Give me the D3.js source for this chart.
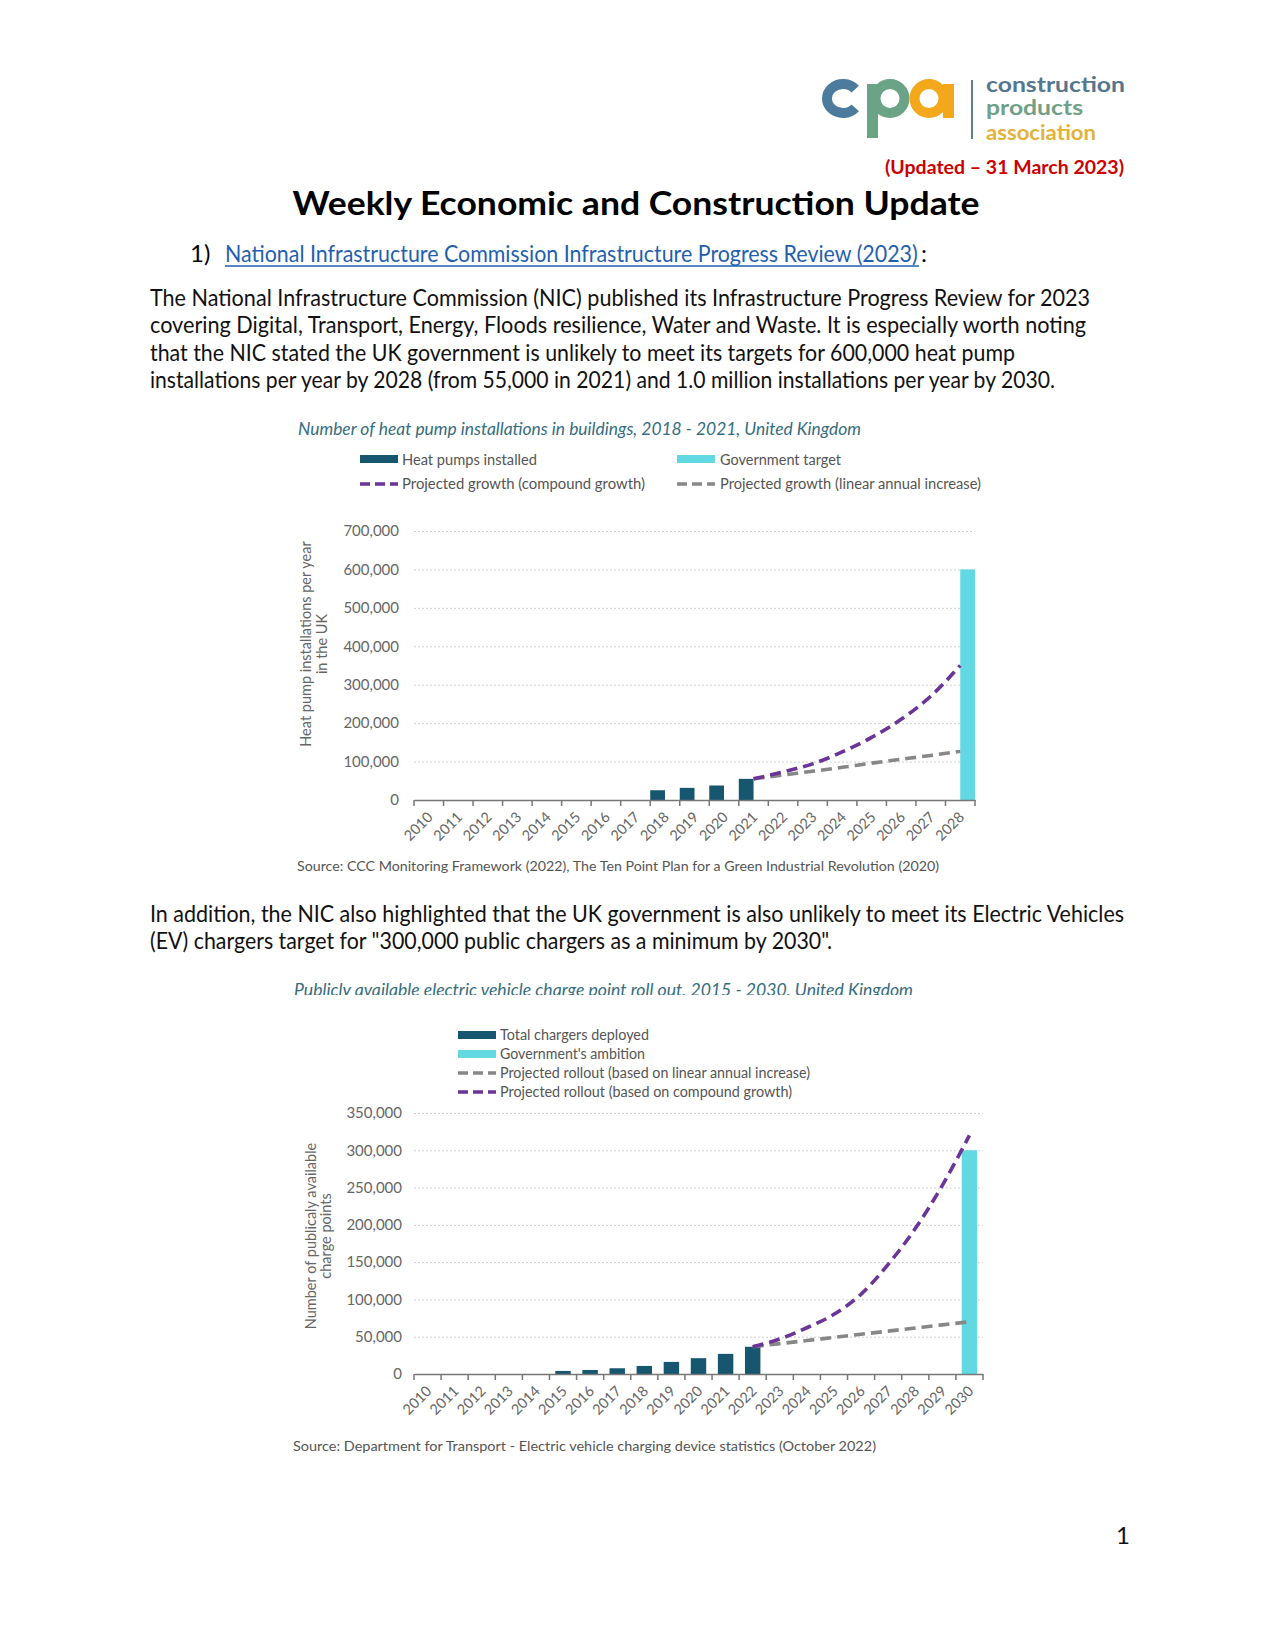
<!DOCTYPE html>
<html><head><meta charset="utf-8">
<script src="https://cdn.jsdelivr.net/npm/d3@7"></script>
<style>body{margin:0;background:#fff}</style>
</head><body>
<svg id="page" width="1275" height="1650"></svg>
<script>
// ---------- DATA ----------
const heatYears = ["2010","2011","2012","2013","2014","2015","2016","2017","2018","2019","2020","2021","2022","2023","2024","2025","2026","2027","2028"];
const heatBarYears = ["2018","2019","2020","2021"];
const heatBarValues = [25400, 31600, 37700, 55000];
const heatTargetYears = ["2028"];
const heatTargetValues = [600000];
const heatProjYears = ["2021","2022","2023","2024","2025","2026","2027","2028"];
const heatCompound = [55000, 73000, 94000, 125000, 163000, 210000, 270000, 350000];
const heatLinear = [55000, 65000, 75000, 85000, 96000, 106000, 116000, 127000];
const heatYTicks = [0, 100000, 200000, 300000, 400000, 500000, 600000, 700000];

const evYears = ["2010","2011","2012","2013","2014","2015","2016","2017","2018","2019","2020","2021","2022","2023","2024","2025","2026","2027","2028","2029","2030"];
const evBarYears = ["2015","2016","2017","2018","2019","2020","2021","2022"];
const evBarValues = [4100, 5400, 7700, 10800, 16200, 21200, 27000, 36500];
const evTargetYears = ["2030"];
const evTargetValues = [300000];
const evProjYears = ["2022","2023","2024","2025","2026","2027","2028","2029","2030"];
const evLinear = [36500, 40700, 44900, 49100, 53300, 57500, 61700, 65900, 70000];
const evCompound = [36500, 47000, 62000, 80000, 107000, 147000, 195000, 253000, 320000];
const evYTicks = [0, 50000, 100000, 150000, 200000, 250000, 300000, 350000];

// ---------- HELPERS ----------
const FONT = "Lato, 'Noto Sans', sans-serif";
const svg = d3.select("#page");
svg.append("rect").attr("width", 1275).attr("height", 1650).attr("fill", "#fff");

function addText(parent, str, x, y, o = {}) {
  const t = parent.append("text").attr("x", x).attr("y", y).text(str)
    .attr("font-family", o.family || FONT)
    .attr("font-size", o.size || 14)
    .attr("fill", o.fill || "#000");
  if (o.weight) t.attr("font-weight", o.weight);
  if (o.italic) t.attr("font-style", "italic");
  if (o.anchor) t.attr("text-anchor", o.anchor);
  if (o.len) t.attr("textLength", o.len).attr("lengthAdjust", "spacingAndGlyphs");
  return t;
}
// text squeezed to an exact width by a horizontal scale (bounding box stays true)
function fitText(parent, str, x, y, width, o = {}) {
  const t = parent.append("text").attr("x", 0).attr("y", 0).text(str)
    .attr("font-family", o.family || FONT)
    .attr("font-size", o.size || 14)
    .attr("fill", o.fill || "#000");
  const w = t.node().getComputedTextLength();
  t.attr("transform", `translate(${x},${y}) scale(${width / w},1)`);
  return t;
}

const C_DARK = "#17566f", C_CYAN = "#62d8e2", C_PURPLE = "#6a3596", C_GREY = "#878787";
const C_AXIS_TXT = "#666666", C_TITLE = "#356d80";

// ---------- LOGO ----------
const logo = svg.append("g");
function ringArc(cx, cy, rx, ry, deg) {
  const a = deg * Math.PI / 180;
  const x0 = cx + rx * Math.cos(-a), y0 = cy + ry * Math.sin(-a);
  const x1 = cx + rx * Math.cos(a), y1 = cy + ry * Math.sin(a);
  return `M${x0},${y0} A${rx},${ry} 0 1 0 ${x1},${y1}`;
}
logo.append("path").attr("d", ringArc(843, 98.5, 16, 14.5, 40))
  .attr("fill", "none").attr("stroke", "#4d7b9d").attr("stroke-width", 10);
logo.append("ellipse").attr("cx", 890).attr("cy", 98.5).attr("rx", 14.5).attr("ry", 14.5)
  .attr("fill", "none").attr("stroke", "#6aa386").attr("stroke-width", 10);
logo.append("rect").attr("x", 867).attr("y", 84).attr("width", 11).attr("height", 54).attr("fill", "#6aa386");
logo.append("ellipse").attr("cx", 929).attr("cy", 98.5).attr("rx", 14.5).attr("ry", 14.5)
  .attr("fill", "none").attr("stroke", "#f3a71b").attr("stroke-width", 10);
logo.append("rect").attr("x", 943).attr("y", 84).attr("width", 11).attr("height", 34).attr("fill", "#f3a71b");
logo.append("line").attr("x1", 972).attr("x2", 972).attr("y1", 80).attr("y2", 139)
  .attr("stroke", "#5c7f98").attr("stroke-width", 2);
addText(logo, "construction", 986, 92, {size: 21, weight: 700, fill: "#55768f", len: 139});
addText(logo, "products", 986, 115, {size: 21, weight: 700, fill: "#70a086", len: 97});
addText(logo, "association", 986, 140, {size: 21, weight: 700, fill: "#e3b23a", len: 110});

addText(svg, "(Updated \u2013 31 March 2023)", 1124, 174, {size: 18, weight: 700, fill: "#cc0000", anchor: "end", len: 239});

// ---------- TITLE & TEXT ----------
addText(svg, "Weekly Economic and Construction Update", 636, 215, {size: 33, weight: 700, anchor: "middle", len: 687});
addText(svg, "1)", 190, 262, {size: 24});
fitText(svg, "National Infrastructure Commission Infrastructure Progress Review (2023)", 225, 262, 693, {size: 24, fill: "#1f5fae"});
svg.append("line").attr("x1", 225).attr("x2", 919).attr("y1", 266).attr("y2", 266).attr("stroke", "#1f5fae").attr("stroke-width", 1.5);
addText(svg, ":", 921, 262, {size: 24});

const para1 = [
  ["The National Infrastructure Commission (NIC) published its Infrastructure Progress Review for 2023", 940],
  ["covering Digital, Transport, Energy, Floods resilience, Water and Waste. It is especially worth noting", 936],
  ["that the NIC stated the UK government is unlikely to meet its targets for 600,000 heat pump", 865],
  ["installations per year by 2028 (from 55,000 in 2021) and 1.0 million installations per year by 2030.", 905]
];
para1.forEach((l, i) => addText(svg, l[0], 150, 306 + i * 27.4, {size: 24, fill: "#111", len: l[1]}));

const para2 = [
  ["In addition, the NIC also highlighted that the UK government is also unlikely to meet its Electric Vehicles", 974],
  ["(EV) chargers target for \"300,000 public chargers as a minimum by 2030\".", 682]
];
para2.forEach((l, i) => addText(svg, l[0], 150, 922 + i * 27.4, {size: 24, fill: "#111", len: l[1]}));

addText(svg, "1", 1116, 1544, {size: 24, fill: "#111"});

// ---------- CHART FUNCTION ----------
function drawChart(cfg) {
  const g = svg.append("g");
  const x = d3.scaleBand().domain(cfg.years).range([cfg.x0, cfg.x1]).padding(0);
  const bw = x.bandwidth();
  const y = d3.scaleLinear().domain([0, cfg.yMax]).range([cfg.yBottom, cfg.yTop]);

  // y grid + labels
  const yAxis = g.append("g").attr("transform", `translate(${cfg.x0},0)`)
    .call(d3.axisLeft(y).tickValues(cfg.yTicks).tickFormat(d3.format(",")).tickSize(-(cfg.x1 - cfg.x0)).tickPadding(cfg.yPad));
  yAxis.select(".domain").remove();
  yAxis.selectAll(".tick line").attr("stroke", "#cfcfcf").attr("stroke-dasharray", "2,2").attr("stroke-width", 1);
  yAxis.selectAll(".tick text").attr("font-family", FONT).attr("font-size", 15).attr("fill", C_AXIS_TXT);

  // bars
  const sub = d3.scaleBand().domain(["a", "b"]).range([0, bw]);
  const barX = (yr, k) => cfg.grouped ? x(yr) + sub(k) : x(yr) + bw * 0.215;
  const barW = cfg.grouped ? sub.bandwidth() : bw * 0.57;
  g.selectAll(".b1").data(cfg.barYears).join("rect")
    .attr("x", d => barX(d, "a")).attr("width", barW)
    .attr("y", (d, i) => y(cfg.barValues[i])).attr("height", (d, i) => y(0) - y(cfg.barValues[i]))
    .attr("fill", C_DARK);
  g.selectAll(".b2").data(cfg.targetYears).join("rect")
    .attr("x", d => barX(d, "b")).attr("width", barW)
    .attr("y", (d, i) => y(cfg.targetValues[i])).attr("height", (d, i) => y(0) - y(cfg.targetValues[i]))
    .attr("fill", C_CYAN);

  // projection lines
  const line = d3.line().x(d => x(d[0]) + bw / 2).y(d => y(d[1])).curve(d3.curveMonotoneX);
  const linPts = cfg.projYears.map((yr, i) => [yr, cfg.linear[i]]);
  const cmpPts = cfg.projYears.map((yr, i) => [yr, cfg.compound[i]]);
  g.append("path").attr("d", line(linPts)).attr("fill", "none").attr("stroke", C_GREY)
    .attr("stroke-width", 3.6).attr("stroke-dasharray", "11,6");
  g.append("path").attr("d", line(cmpPts)).attr("fill", "none").attr("stroke", C_PURPLE)
    .attr("stroke-width", 3.6).attr("stroke-dasharray", "11,6");

  // x axis
  const xAxis = g.append("g").attr("transform", `translate(0,${cfg.yBottom})`)
    .call(d3.axisBottom(x).tickSize(0).tickPadding(0));
  xAxis.select(".domain").attr("stroke", "#777").attr("stroke-width", 1.5);
  xAxis.selectAll(".tick text")
    .attr("font-family", FONT).attr("font-size", 14.5).attr("fill", C_AXIS_TXT)
    .attr("text-anchor", "end").attr("y", null).attr("dy", null)
    .attr("transform", "translate(5,18) rotate(-45)");
  const bounds = cfg.years.map(d => x(d)).concat([cfg.x1]);
  g.selectAll(".tk").data(bounds).join("line")
    .attr("x1", d => d).attr("x2", d => d).attr("y1", cfg.yBottom).attr("y2", cfg.yBottom + 6)
    .attr("stroke", "#777").attr("stroke-width", 1.5);

  // y axis title
  cfg.yTitle.forEach((t, i) => {
    g.append("text").attr("transform", `translate(${cfg.yTitleX[i]},${cfg.yTitleY}) rotate(-90)`)
      .attr("text-anchor", "middle").attr("font-family", FONT).attr("font-size", 14.5)
      .attr("fill", C_AXIS_TXT).text(t);
  });
  return g;
}

// ---------- CHART 1 ----------
const g1 = svg.append("g");
addText(g1, "Number of heat pump installations in buildings, 2018 - 2021, United Kingdom", 298, 435, {size: 17, italic: true, fill: C_TITLE, len: 563});
g1.append("rect").attr("x", 360).attr("y", 455).attr("width", 38).attr("height", 8).attr("fill", C_DARK);
addText(g1, "Heat pumps installed", 402, 465, {size: 14.5, fill: "#555", len: 135});
g1.append("rect").attr("x", 677).attr("y", 455).attr("width", 38).attr("height", 8).attr("fill", C_CYAN);
addText(g1, "Government target", 720, 465, {size: 14.5, fill: "#555", len: 121});
g1.append("line").attr("x1", 360).attr("x2", 398).attr("y1", 484).attr("y2", 484).attr("stroke", C_PURPLE).attr("stroke-width", 3.5).attr("stroke-dasharray", "10,5");
addText(g1, "Projected growth (compound growth)", 402, 489, {size: 14.5, fill: "#555", len: 243});
g1.append("line").attr("x1", 677).attr("x2", 715).attr("y1", 484).attr("y2", 484).attr("stroke", C_GREY).attr("stroke-width", 3.5).attr("stroke-dasharray", "10,5");
addText(g1, "Projected growth (linear annual increase)", 720, 489, {size: 14.5, fill: "#555", len: 261});

drawChart({
  years: heatYears, barYears: heatBarYears, barValues: heatBarValues,
  targetYears: heatTargetYears, targetValues: heatTargetValues,
  projYears: heatProjYears, compound: heatCompound, linear: heatLinear,
  yMax: 700000, yTicks: heatYTicks, x0: 414, x1: 975, yTop: 531, yBottom: 800, yPad: 15,
  grouped: true,
  yTitle: ["Heat pump installations per year", "in the UK"], yTitleX: [311, 327], yTitleY: 644
});
addText(svg, "Source: CCC Monitoring Framework (2022), The Ten Point Plan for a Green Industrial Revolution (2020)", 297, 871, {size: 14, fill: "#555", len: 642});

// ---------- CHART 2 ----------
const g2 = svg.append("g");
svg.append("clipPath").attr("id", "clipT2").append("rect").attr("x", 0).attr("y", 960).attr("width", 1275).attr("height", 35);
addText(g2, "Publicly available electric vehicle charge point roll out, 2015 - 2030, United Kingdom", 294, 996, {size: 17, italic: true, fill: C_TITLE, len: 619})
  .attr("clip-path", "url(#clipT2)");
g2.append("rect").attr("x", 458).attr("y", 1031).attr("width", 38).attr("height", 8).attr("fill", C_DARK);
addText(g2, "Total chargers deployed", 500, 1040, {size: 14.5, fill: "#555", len: 149});
g2.append("rect").attr("x", 458).attr("y", 1050).attr("width", 38).attr("height", 8).attr("fill", C_CYAN);
addText(g2, "Government's ambition", 500, 1059, {size: 14.5, fill: "#555", len: 145});
g2.append("line").attr("x1", 458).attr("x2", 496).attr("y1", 1073).attr("y2", 1073).attr("stroke", C_GREY).attr("stroke-width", 3.5).attr("stroke-dasharray", "10,5");
addText(g2, "Projected rollout (based on linear annual increase)", 500, 1078, {size: 14.5, fill: "#555", len: 310});
g2.append("line").attr("x1", 458).attr("x2", 496).attr("y1", 1092).attr("y2", 1092).attr("stroke", C_PURPLE).attr("stroke-width", 3.5).attr("stroke-dasharray", "10,5");
addText(g2, "Projected rollout (based on compound growth)", 500, 1097, {size: 14.5, fill: "#555", len: 292});

drawChart({
  years: evYears, barYears: evBarYears, barValues: evBarValues,
  targetYears: evTargetYears, targetValues: evTargetValues,
  projYears: evProjYears, compound: evCompound, linear: evLinear,
  yMax: 350000, yTicks: evYTicks, x0: 414, x1: 983, yTop: 1113, yBottom: 1374, yPad: 12,
  grouped: false,
  yTitle: ["Number of publicaly available", "charge points"], yTitleX: [316, 331], yTitleY: 1236
});
addText(svg, "Source: Department for Transport - Electric vehicle charging device statistics (October 2022)", 293, 1451, {size: 14, fill: "#555", len: 583});
</script>
</body></html>
